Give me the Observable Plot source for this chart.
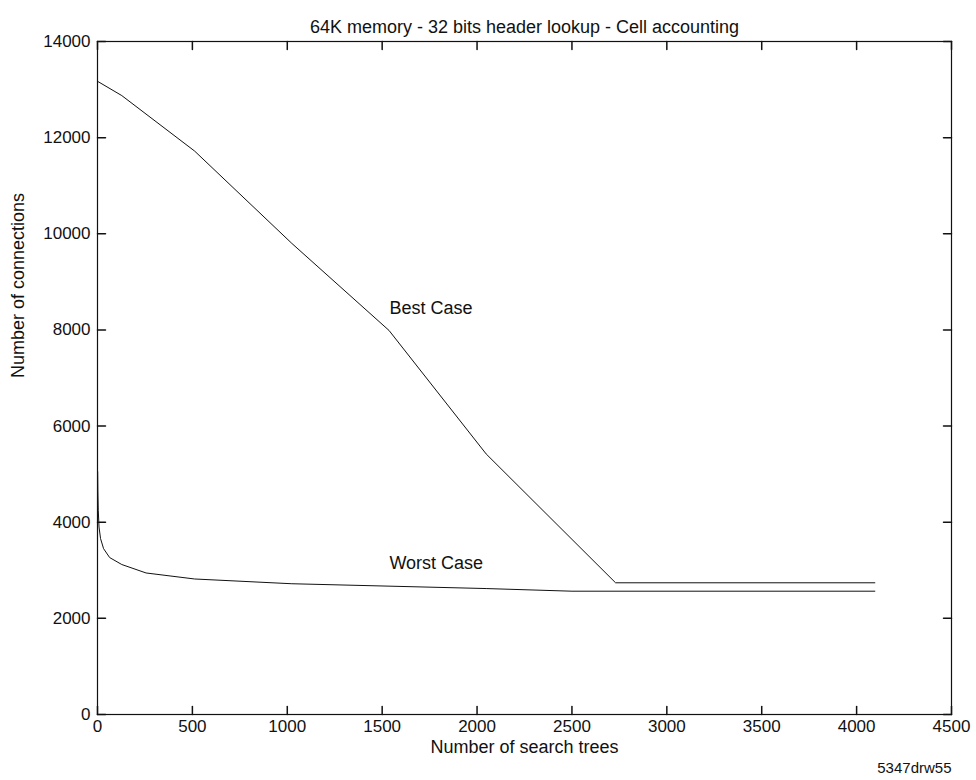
<!DOCTYPE html>
<html>
<head>
<meta charset="utf-8">
<script src="https://cdn.jsdelivr.net/npm/d3@7"></script>
<script src="https://cdn.jsdelivr.net/npm/@observablehq/plot@0.6"></script>
<style>
  html, body { margin: 0; padding: 0; background: #fff; }
  svg { font-family: "Liberation Sans", Arial, sans-serif; }
</style>
</head>
<body>
<div id="chart"></div>
<script>
// ---- data ----
const bestX = [1, 128, 512, 1024, 1536, 2048, 2730, 4096];
const bestY = [13170, 12875, 11720, 9800, 7990, 5420, 2740, 2740];
const worstX = [1, 2, 4, 8, 16, 32, 64, 128, 256, 512, 1024, 2048, 2500, 4096];
const worstY = [5050, 4650, 4250, 3900, 3660, 3450, 3265, 3120, 2944, 2819, 2720, 2620, 2565, 2565];
const xTicks = [0, 500, 1000, 1500, 2000, 2500, 3000, 3500, 4000, 4500];
const yTicks = [0, 2000, 4000, 6000, 8000, 10000, 12000, 14000];
const labelNames = ["Best Case", "Worst Case"];
const labelX = [1538, 1538];
const labelY = [8460, 3150];
const title = "64K memory - 32 bits header lookup - Cell accounting";
const xLabel = "Number of search trees";
const yLabel = "Number of connections";
const caption = "5347drw55";

const best = bestX.map((x, i) => ({x, y: bestY[i]}));
const worst = worstX.map((x, i) => ({x, y: worstY[i]}));
const labels = labelNames.map((t, i) => ({t, x: labelX[i], y: labelY[i]}));

const tickShape = {draw(context, l) { context.moveTo(0, 0); context.lineTo(0, -l); }};
const TL = 8;

const chart = Plot.plot({
  width: 976,
  height: 780,
  marginLeft: 97,
  marginRight: 25,
  marginTop: 41,
  marginBottom: 66,
  style: {fontFamily: "'Liberation Sans', Arial, sans-serif", fontSize: "18px", color: "#111", background: "#fff"},
  x: {domain: [0, 4500]},
  y: {domain: [0, 14000]},
  marks: [
    Plot.frame({stroke: "#111", strokeWidth: 1.2}),
    // inward ticks on all four sides
    Plot.vector(xTicks, {x: d => d, frameAnchor: "bottom", length: TL, rotate: 0, anchor: "start", shape: tickShape, stroke: "#111"}),
    Plot.vector(xTicks, {x: d => d, frameAnchor: "top", length: TL, rotate: 180, anchor: "start", shape: tickShape, stroke: "#111"}),
    Plot.vector(yTicks, {y: d => d, frameAnchor: "left", length: TL, rotate: 90, anchor: "start", shape: tickShape, stroke: "#111"}),
    Plot.vector(yTicks, {y: d => d, frameAnchor: "right", length: TL, rotate: -90, anchor: "start", shape: tickShape, stroke: "#111"}),
    Plot.axisX(xTicks, {tickSize: 0, tickPadding: 5, label: null, fontSize: 17, tickFormat: d3.format("d")}),
    Plot.axisY(yTicks, {tickSize: 0, tickPadding: 7, label: null, fontSize: 17, tickFormat: d3.format("d")}),
    Plot.line(best, {x: "x", y: "y", stroke: "#111", strokeWidth: 1}),
    Plot.line(worst, {x: "x", y: "y", stroke: "#111", strokeWidth: 1}),
    Plot.text(labels, {x: "x", y: "y", text: "t", textAnchor: "start", fontSize: 18, fill: "#111"}),
    Plot.text([title], {frameAnchor: "top", dy: -21, fontSize: 18, fill: "#111"}),
    Plot.text([xLabel], {frameAnchor: "bottom", dy: 38, fontSize: 18, fill: "#111"}),
    Plot.text([yLabel], {frameAnchor: "left", dx: -79, rotate: -90, fontSize: 18, fill: "#111"}),
    Plot.text([caption], {frameAnchor: "bottom-right", dy: 58, dx: 0, textAnchor: "end", fontSize: 15, fill: "#111"})
  ]
});
document.getElementById("chart").appendChild(chart);
</script>
</body>
</html>
